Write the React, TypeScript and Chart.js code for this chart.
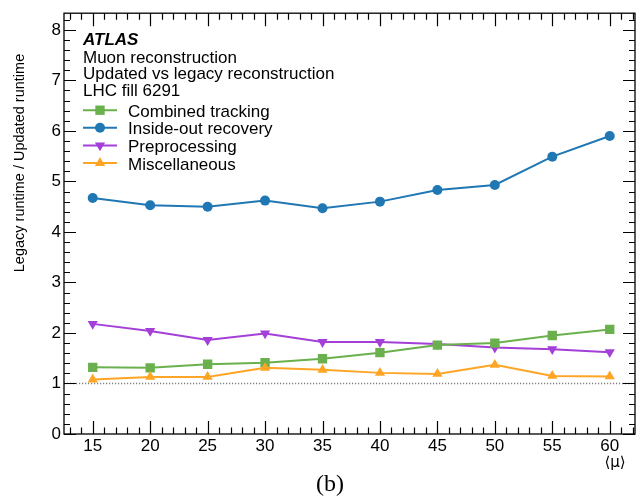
import React, { useEffect, useRef } from "react";
import { Chart, registerables } from "chart.js";
import { drawPoint } from "chart.js/helpers";

Chart.register(...registerables);

// ---- data ----
const muValues = [15, 20, 25, 30, 35, 40, 45, 50, 55, 60];
const combinedTracking = [1.32, 1.31, 1.38, 1.41, 1.49, 1.61, 1.76, 1.8, 1.95, 2.07];
const insideOutRecovery = [4.67, 4.53, 4.5, 4.62, 4.47, 4.6, 4.83, 4.93, 5.49, 5.9];
const preprocessing = [2.18, 2.04, 1.86, 1.99, 1.82, 1.82, 1.78, 1.71, 1.68, 1.62];
const miscellaneous = [1.08, 1.13, 1.13, 1.31, 1.27, 1.21, 1.19, 1.37, 1.15, 1.14];

const seriesNames = ["Combined tracking", "Inside-out recovery", "Preprocessing", "Miscellaneous"];
const seriesValues = [combinedTracking, insideOutRecovery, preprocessing, miscellaneous];

const xTickValues = [15, 20, 25, 30, 35, 40, 45, 50, 55, 60];
const yTickValues = [0, 1, 2, 3, 4, 5, 6, 7, 8];
const referenceLevel = 1;

const experimentLabel = "ATLAS";
const headerLines = ["Muon reconstruction", "Updated vs legacy reconstruction", "LHC fill 6291"];
const yAxisTitle = "Legacy runtime / Updated runtime";
const xAxisTitle = "\u27e8\u03bc\u27e9";
const panelLabel = "(b)";

// ---- styles ----
const seriesColors = ["#6ab04c", "#1f77b4", "#a43fd8", "#ffa526"];
const seriesMarkers = [
  { pointStyle: "rect", radius: 6.6, rotation: 0 },
  { pointStyle: "circle", radius: 5, rotation: 0 },
  { pointStyle: "triangle", radius: 5.9, rotation: 180 },
  { pointStyle: "triangle", radius: 5.9, rotation: 0 },
];
const drawOrder = [1, 2, 3, 0];

const X_MIN = 12.5;
const X_MAX = 62.2;
const Y_MIN = 0;
const Y_MAX = 8.33;

const SANS = '"Liberation Sans", Arial, Helvetica, sans-serif';

const decorPlugin = {
  id: "atlasDecor",
  beforeDatasetsDraw(chart: any) {
    const { ctx, chartArea: a, scales } = chart;
    const y = scales.y.getPixelForValue(referenceLevel);
    ctx.save();
    ctx.strokeStyle = "#808080";
    ctx.lineWidth = 1.5;
    ctx.setLineDash([1.2, 1.8]);
    ctx.beginPath();
    ctx.moveTo(a.left, y);
    ctx.lineTo(a.right, y);
    ctx.stroke();
    ctx.restore();
  },
  afterDraw(chart: any) {
    const { ctx, chartArea: a, scales } = chart;
    const xs = scales.x;
    const ys = scales.y;
    ctx.save();
    // frame
    ctx.strokeStyle = "#000";
    ctx.lineWidth = 1.3;
    ctx.strokeRect(a.left, a.top, a.right - a.left, a.bottom - a.top);
    // ticks
    ctx.lineWidth = 1.2;
    ctx.beginPath();
    const majX = 13, minX = 6.5, majY = 12, minY = 6;
    for (let v = Math.ceil(X_MIN); v <= X_MAX; v++) {
      const px = Math.round(xs.getPixelForValue(v)) + 0.5;
      const len = xTickValues.includes(v) ? majX : minX;
      ctx.moveTo(px, a.bottom);
      ctx.lineTo(px, a.bottom - len);
      ctx.moveTo(px, a.top);
      ctx.lineTo(px, a.top + len);
    }
    for (let i = 0; i * 0.2 <= Y_MAX; i++) {
      const v = i * 0.2;
      const py = Math.round(ys.getPixelForValue(v)) + 0.5;
      const len = i % 5 === 0 ? majY : minY;
      ctx.moveTo(a.left, py);
      ctx.lineTo(a.left + len, py);
      ctx.moveTo(a.right, py);
      ctx.lineTo(a.right - len, py);
    }
    ctx.stroke();

    // texts
    ctx.fillStyle = "#000";
    ctx.textAlign = "left";
    ctx.textBaseline = "alphabetic";
    ctx.font = `italic bold 17px ${SANS}`;
    ctx.fillText(experimentLabel, 83, 45);
    ctx.font = `17px ${SANS}`;
    headerLines.forEach((t, i) => ctx.fillText(t, 83, 62.5 + i * 16.8));

    // legend
    const rowY = [110.2, 127.8, 145.4, 163];
    seriesNames.forEach((name, i) => {
      const cy = rowY[i];
      ctx.strokeStyle = seriesColors[i];
      ctx.lineWidth = 2;
      ctx.beginPath();
      ctx.moveTo(83, cy);
      ctx.lineTo(117, cy);
      ctx.stroke();
      ctx.fillStyle = seriesColors[i];
      ctx.strokeStyle = seriesColors[i];
      drawPoint(ctx, { ...seriesMarkers[i], borderWidth: 0 } as any, 100, cy);
      ctx.fillStyle = "#000";
      ctx.font = `17px ${SANS}`;
      ctx.fillText(name, 128, cy + 6.5);
    });

    // y title
    ctx.save();
    ctx.translate(20, 163);
    ctx.rotate(-Math.PI / 2);
    ctx.textAlign = "center";
    ctx.textBaseline = "middle";
    ctx.font = `14.5px ${SANS}`;
    ctx.fillText(yAxisTitle, 0, 0);
    ctx.restore();

    // x title
    ctx.textAlign = "center";
    ctx.textBaseline = "middle";
    ctx.font = `15px "DejaVu Sans", ${SANS}`;
    ctx.fillText(xAxisTitle, 615, 463.5);

    // panel label
    ctx.textBaseline = "alphabetic";
    ctx.font = `24px "Liberation Serif", "Times New Roman", serif`;
    ctx.fillText(panelLabel, 330, 491);
    ctx.restore();
  },
};

export default function App() {
  const ref = useRef<HTMLCanvasElement | null>(null);
  useEffect(() => {
    if (!ref.current) return;
    const datasets = seriesNames.map((name, i) => ({
      label: name,
      data: muValues.map((x, j) => ({ x, y: seriesValues[i][j] })),
      borderColor: seriesColors[i],
      backgroundColor: seriesColors[i],
      borderWidth: 2,
      pointStyle: seriesMarkers[i].pointStyle,
      pointRadius: seriesMarkers[i].radius,
      pointRotation: seriesMarkers[i].rotation,
      pointBorderWidth: 0,
      pointBackgroundColor: seriesColors[i],
      order: drawOrder[i],
      tension: 0,
      fill: false,
    }));
    const chart = new Chart(ref.current, {
      type: "line",
      data: { datasets } as any,
      options: {
        animation: false,
        responsive: false,
        devicePixelRatio: 1,
        layout: { padding: { top: 13, right: 9, left: 0, bottom: 0 } },
        plugins: { legend: { display: false }, tooltip: { enabled: false } },
        scales: {
          x: {
            type: "linear",
            min: X_MIN,
            max: X_MAX,
            grid: { display: false, drawTicks: false },
            border: { display: false },
            afterBuildTicks: (s: any) => {
              s.ticks = xTickValues.map((v) => ({ value: v }));
            },
            afterFit: (s: any) => {
              s.height = 69;
            },
            ticks: {
              autoSkip: false,
              maxRotation: 0,
              padding: 2,
              color: "#000",
              font: { family: SANS, size: 17 },
            },
          },
          y: {
            type: "linear",
            min: Y_MIN,
            max: Y_MAX,
            grid: { display: false, drawTicks: false },
            border: { display: false },
            afterBuildTicks: (s: any) => {
              s.ticks = yTickValues.map((v) => ({ value: v }));
            },
            afterFit: (s: any) => {
              s.width = 64;
            },
            ticks: {
              autoSkip: false,
              padding: 3,
              color: "#000",
              font: { family: SANS, size: 17 },
            },
          },
        },
      } as any,
      plugins: [decorPlugin],
    });
    return () => chart.destroy();
  }, []);
  return (
    <div style={{ position: "absolute", left: 0, top: 0, width: 644, height: 503, background: "#fff" }}>
      <canvas ref={ref} width={644} height={503} style={{ width: 644, height: 503, display: "block" }} />
    </div>
  );
}
